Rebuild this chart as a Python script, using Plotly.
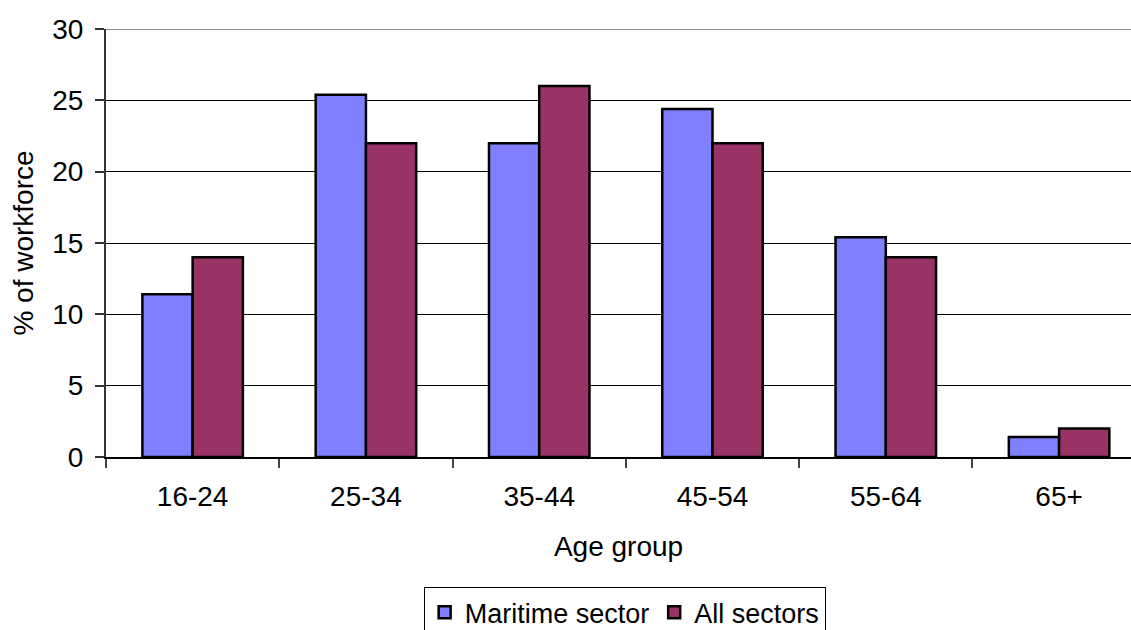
import plotly.graph_objects as go

categories = ["16-24", "25-34", "35-44", "45-54", "55-64", "65+"]
maritime = [11.4, 25.4, 22.0, 24.4, 15.4, 1.4]
all_sectors = [14.0, 22.0, 26.0, 22.0, 14.0, 2.0]
y_ticks = [0, 5, 10, 15, 20, 25, 30]

FONT = "Liberation Sans, Arial, sans-serif"
FS = 28

fig = go.Figure()
fig.add_trace(go.Bar(x=categories, y=maritime, name="Maritime sector",
                     marker=dict(color="#8080FF", line=dict(color="black", width=2.5))))
fig.add_trace(go.Bar(x=categories, y=all_sectors, name="All sectors",
                     marker=dict(color="#993366", line=dict(color="black", width=2.5))))

fig.add_shape(type="line", xref="paper", yref="y", x0=0, x1=1, y0=y_ticks[-1], y1=y_ticks[-1],
              line=dict(color="#8c8c8c", width=2), layer="above")

fig.update_layout(
    width=1131, height=630,
    margin=dict(l=106, r=0, t=29, b=173, autoexpand=False),
    paper_bgcolor="white", plot_bgcolor="white",
    font=dict(family=FONT, size=FS, color="black"),
    barmode="group", bargap=0.42, bargroupgap=0,
    showlegend=True,
    legend=dict(orientation="h", x=0.506, xanchor="center", y=-0.304, yanchor="top",
                bordercolor="black", borderwidth=1, font=dict(size=27),
                itemclick=False, tracegroupgap=0),
    xaxis=dict(
        type="category", range=[-0.5, 5.415],
        showline=True, linecolor="black", linewidth=1.5,
        ticks="outside", tickson="boundaries", ticklen=9, tickcolor="#444", tickwidth=1.5,
        ticklabelstandoff=14,
        showgrid=False,
        title=dict(text="Age group", standoff=25, font=dict(size=FS)),
    ),
    yaxis=dict(
        range=[0, 30], tickvals=y_ticks,
        showline=True, linecolor="#333", linewidth=2,
        ticks="outside", ticklen=9, tickcolor="#333", tickwidth=1.5,
        ticklabelstandoff=6,
        showgrid=True, gridcolor="black", gridwidth=1,
        zeroline=False,
        title=dict(text="% of workforce", standoff=10, font=dict(size=FS)),
    ),
)

fig.write_html("out.html")
